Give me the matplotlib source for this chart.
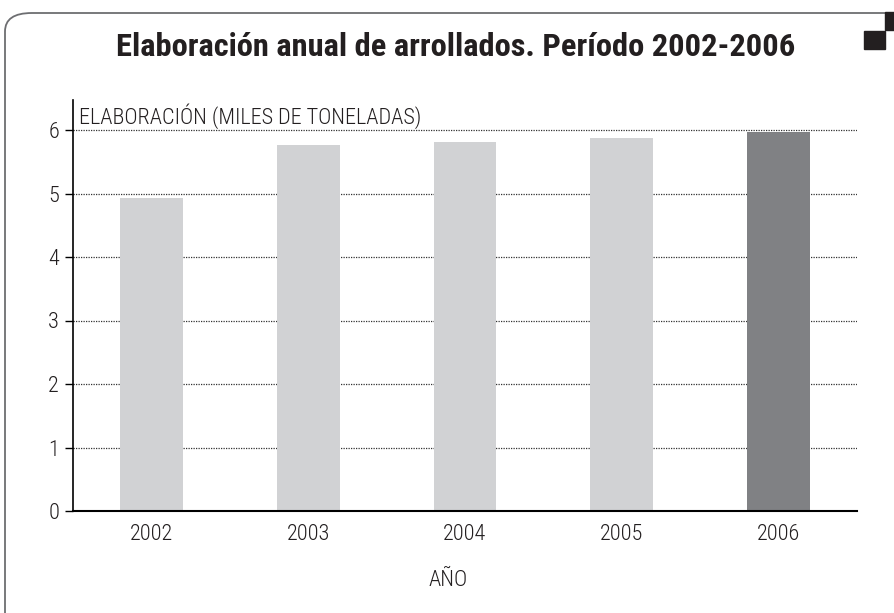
import matplotlib.pyplot as plt
from matplotlib.patches import FancyBboxPatch, Rectangle

# data
years = ['2002', '2003', '2004', '2005', '2006']
values = [4.93, 5.76, 5.81, 5.87, 5.97]
colors = ['#d1d2d4', '#d1d2d4', '#d1d2d4', '#d1d2d4', '#808184']
yticks = [0, 1, 2, 3, 4, 5, 6]

plt.rcParams['font.family'] = ['Roboto Condensed', 'DejaVu Sans']
plt.rcParams['font.weight'] = 300
txt = '#231f20'

fig = plt.figure(figsize=(8.94, 6.13), dpi=100)
W, H = 894, 613

# rounded frame and corner squares
frame = FancyBboxPatch((5 / W, -0.2), 1.2, (613 - 13) / H + 0.2,
                       boxstyle='round,pad=0,rounding_size=0.03',
                       transform=fig.transFigure, fill=False,
                       edgecolor='#6d6e71', linewidth=1.3)
fig.patches.append(frame)
fig.patches.append(Rectangle((885 / W, 1 - 30 / H), 9 / W, 18 / H,
                             transform=fig.transFigure, color=txt))
fig.patches.append(Rectangle((864 / W, 1 - 49 / H), 21 / W, 18 / H,
                             transform=fig.transFigure, color=txt))

fig.text(456 / W, 1 - 47 / H, 'Elaboración anual de arrollados. Período 2002-2006',
         ha='center', va='center', fontsize=23.4, fontweight='bold', color=txt)

ax = fig.add_axes([73 / W, 1 - 511 / H, 784 / W, 411 / H])
x = range(len(years))
ax.bar(x, values, width=0.4, color=colors, zorder=2)
ax.set_xlim(-0.5, 4.5)
ax.set_ylim(0, 411 / 63.5)
ax.set_yticks(yticks)
ax.set_xticks(list(x))
ax.set_xticklabels(years)
ax.tick_params(axis='x', length=0, pad=9, labelsize=16, labelcolor=txt)
ax.tick_params(axis='y', length=6, width=1, pad=4, labelsize=16, labelcolor=txt)
for y in yticks[1:]:
    ax.axhline(y, color='#333333', linestyle=(0, (1, 1)), linewidth=0.9, zorder=1)
for s in ['top', 'right']:
    ax.spines[s].set_visible(False)
ax.spines['left'].set_linewidth(1.2)
ax.spines['bottom'].set_linewidth(1.5)
ax.spines['bottom'].set_zorder(3)

ax.text(6 / 784, 1 - 16 / 411, 'ELABORACIÓN (MILES DE TONELADAS)', transform=ax.transAxes,
        ha='left', va='center', fontsize=16, color=txt)
fig.text(448 / W, 1 - 580 / H, 'AÑO', ha='center', va='center', fontsize=16, color=txt)

fig.savefig('out.png', dpi=100)
